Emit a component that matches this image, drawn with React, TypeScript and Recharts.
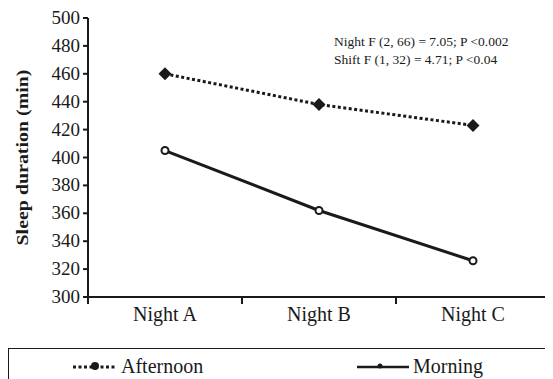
import { LineChart, Line, XAxis, YAxis, Legend } from "recharts"

const nights = ["Night A", "Night B", "Night C"]
const afternoon = [460, 438, 423]
const morning = [405, 362, 326]
const yTicks = [300, 320, 340, 360, 380, 400, 420, 440, 460, 480, 500]
const stats = ["Night F (2, 66) = 7.05; P <0.002", "Shift F (1, 32) = 4.71; P <0.04"]

const serif = "Liberation Serif, Times New Roman, Tinos, serif"
const ink = "#1a1a1a"

const data = nights.map((night, i) => ({
  pos: i + 0.5,
  night,
  afternoon: afternoon[i],
  morning: morning[i],
}))

const xTicks = [0, 0.5, 1, 1.5, 2, 2.5, 3]

function NightTick({ x, y, payload }: any) {
  const v = payload.value
  if (Number.isInteger(v)) {
    return <line x1={x} x2={x} y1={y} y2={y + 7} stroke={ink} strokeWidth={2} />
  }
  return (
    <text x={x} y={y + 24} textAnchor="middle" fontFamily={serif} fontSize={20} fill={ink}>
      {nights[Math.floor(v)]}
    </text>
  )
}

function ValueTick({ x, y, payload }: any) {
  return (
    <text x={x} y={y} dy={6} textAnchor="end" fontFamily={serif} fontSize={19} fill={ink}>
      {payload.value}
    </text>
  )
}

function Diamond({ cx, cy }: any) {
  if (cx == null || cy == null) return null
  const r = 6.5
  return <polygon points={`${cx},${cy - r} ${cx + r},${cy} ${cx},${cy + r} ${cx - r},${cy}`} fill={ink} />
}

function LegendBox() {
  return (
    <div
      style={{
        border: `1.5px solid ${ink}`,
        height: 44,
        position: "relative",
        fontFamily: serif,
        fontSize: 20,
        color: ink,
        boxSizing: "border-box",
      }}
    >
      <svg width={50} height={14} style={{ position: "absolute", left: 62, top: 11 }}>
        <line x1={2} x2={46} y1={7} y2={7} stroke={ink} strokeWidth={3} strokeDasharray="3 2.5" />
        <circle cx={24} cy={6} r={4} fill={ink} />
      </svg>
      <span style={{ position: "absolute", left: 112, top: 6 }}>Afternoon</span>
      <svg width={54} height={14} style={{ position: "absolute", left: 348, top: 11 }}>
        <line x1={0} x2={52} y1={7} y2={7} stroke={ink} strokeWidth={2.5} />
        <circle cx={23} cy={6} r={2.5} fill={ink} />
      </svg>
      <span style={{ position: "absolute", left: 404, top: 6 }}>Morning</span>
    </div>
  )
}

export default function App() {
  return (
    <div style={{ position: "relative", width: 545, height: 380 }}>
      <LineChart width={545} height={380} data={data} margin={{ top: 10, right: 2, left: 0, bottom: 0 }}>
        <XAxis
          dataKey="pos"
          type="number"
          domain={[0, 3]}
          ticks={xTicks}
          interval={0}
          tickSize={0}
          tickMargin={0}
          tickLine={false}
          tick={<NightTick />}
          axisLine={{ stroke: ink, strokeWidth: 2 }}
          height={47}
        />
        <XAxis
          xAxisId="top"
          orientation="top"
          type="number"
          domain={[0, 3]}
          tick={false}
          tickLine={false}
          axisLine={{ stroke: ink, strokeWidth: 2 }}
          height={0}
        />
        <YAxis
          domain={[300, 500]}
          ticks={yTicks}
          interval={0}
          tickSize={5}
          tickMargin={3}
          tickLine={{ stroke: ink, strokeWidth: 2 }}
          axisLine={{ stroke: ink, strokeWidth: 2 }}
          tick={<ValueTick />}
          width={80}
          label={{
            content: (p: any) => {
              const vb = p.viewBox
              const cy = vb.y + vb.height / 2
              return (
                <text
                  x={14}
                  y={cy}
                  transform={`rotate(-90, 14, ${cy})`}
                  textAnchor="middle"
                  dominantBaseline="central"
                  fontFamily={serif}
                  fontWeight="bold"
                  fontSize={17}
                  fill={ink}
                  textLength={176}
                  lengthAdjust="spacingAndGlyphs"
                >
                  Sleep duration (min)
                </text>
              )
            },
          }}
        />
        <YAxis
          yAxisId="right"
          orientation="right"
          domain={[0, 1]}
          tick={false}
          tickLine={false}
          axisLine={{ stroke: ink, strokeWidth: 2 }}
          width={1}
        />
        <Legend
          verticalAlign="bottom"
          content={() => <LegendBox />}
          wrapperStyle={{ position: "absolute", top: 340, left: 0, width: 545 }}
        />
        <Line
          dataKey="afternoon"
          stroke={ink}
          strokeWidth={3}
          strokeDasharray="3 2.5"
          dot={<Diamond />}
          activeDot={false}
          isAnimationActive={false}
        />
        <Line
          dataKey="morning"
          stroke={ink}
          strokeWidth={3}
          dot={{ r: 3.5, fill: "#fff", stroke: ink, strokeWidth: 2 }}
          activeDot={false}
          isAnimationActive={false}
        />
      </LineChart>
      <div
        style={{
          position: "absolute",
          left: 326,
          top: 25,
          fontFamily: serif,
          fontSize: 13.5,
          lineHeight: "18px",
          color: ink,
          whiteSpace: "nowrap",
        }}
      >
        {stats.map((s) => (
          <div key={s}>{s}</div>
        ))}
      </div>
    </div>
  )
}
